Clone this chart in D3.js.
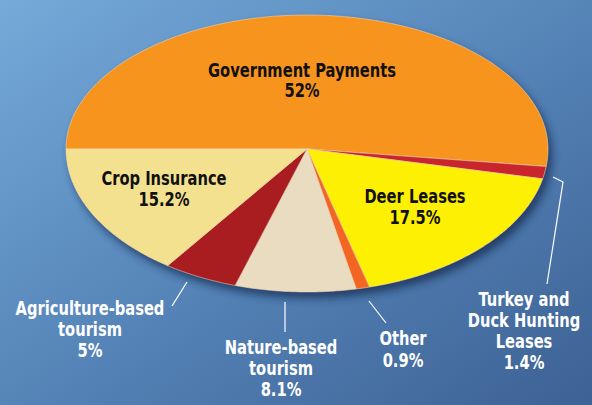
<!DOCTYPE html>
<html>
<head>
<meta charset="utf-8">
<script src="https://cdn.jsdelivr.net/npm/d3@7/dist/d3.min.js"></script>
<style>
  html, body { margin: 0; padding: 0; background: #5a88b8; }
  svg { display: block; }
  text { font-family: "DejaVu Sans Condensed", "DejaVu Sans", "Liberation Sans", sans-serif; font-weight: bold; }
</style>
</head>
<body>
<div id="chart"></div>
<script>
// ---- Data ----
const categories = ["Government Payments", "Turkey and Duck Hunting Leases", "Deer Leases", "Other", "Nature-based tourism", "Agriculture-based tourism", "Crop Insurance"];
const values = [52, 1.4, 17.5, 0.9, 8.1, 5, 15.2];
const nameLines = [
  ["Government Payments"],
  ["Turkey and", "Duck Hunting", "Leases"],
  ["Deer Leases"],
  ["Other"],
  ["Nature-based", "tourism"],
  ["Agriculture-based", "tourism"],
  ["Crop Insurance"]
];
const colors = ["#f7941e", "#c9252c", "#fdf002", "#f26522", "#e9dcc0", "#a91d21", "#f4e18f"];

// ---- Layout (not data) ----
const W = 592, H = 405;
const cx = 307, cy = 149, rx = 241, ryTop = 134, ryBot = 143;
const labelLayout = [
  { x: 302, y: 76.5, lh: 20.5, fill: "#111" },
  { x: 524, y: 306,  lh: 21,   fill: "#fff" },
  { x: 415, y: 203,  lh: 20.5, fill: "#111" },
  { x: 403, y: 345,  lh: 22,   fill: "#fff" },
  { x: 281, y: 354,  lh: 21,   fill: "#fff" },
  { x: 90,  y: 315,  lh: 21,   fill: "#fff" },
  { x: 164, y: 185,  lh: 20.5, fill: "#111" }
];
const leaders = [
  null,
  [[553, 177], [563, 182], [547, 284]],
  null,
  [[369, 301], [386, 323]],
  [[285, 302], [285, 332]],
  [[187, 282], [172, 306]],
  null
];

const svg = d3.select("#chart").append("svg").attr("width", W).attr("height", H);
const defs = svg.append("defs");

const bg = defs.append("linearGradient").attr("id", "bg")
  .attr("x1", 0).attr("y1", 0).attr("x2", 1).attr("y2", 1);
bg.append("stop").attr("offset", "0%").attr("stop-color", "#75aad9");
bg.append("stop").attr("offset", "55%").attr("stop-color", "#5381b5");
bg.append("stop").attr("offset", "100%").attr("stop-color", "#3d6194");

const blur = defs.append("filter").attr("id", "shadow").attr("x", "-20%").attr("y", "-20%").attr("width", "140%").attr("height", "140%");
blur.append("feGaussianBlur").attr("stdDeviation", 4);

svg.append("rect").attr("width", W).attr("height", H).attr("fill", "url(#bg)");

// perspective ellipse projection of an angle (clockwise from 12 o'clock)
function pt(a, ox = 0, oy = 0) {
  const c = Math.cos(a), s = Math.sin(a);
  const ry = c > 0 ? ryTop : ryBot;
  return [cx + ox + rx * s, cy + oy - ry * c];
}
function slicePath(a0, a1, ox = 0, oy = 0) {
  const p = d3.path();
  p.moveTo(cx + ox, cy + oy);
  const n = Math.max(2, Math.ceil((a1 - a0) / 0.01));
  for (let i = 0; i <= n; i++) {
    const q = pt(a0 + (a1 - a0) * i / n, ox, oy);
    p.lineTo(q[0], q[1]);
  }
  p.closePath();
  return p.toString();
}

const pie = d3.pie().sort(null).value(d => d)
  .startAngle(-Math.PI / 2).endAngle(1.5 * Math.PI);
const arcs = pie(values);

// shadow
svg.append("path")
  .attr("d", slicePath(-Math.PI / 2, 1.5 * Math.PI, 4, 6))
  .attr("fill", "#162a4f").attr("opacity", 0.75)
  .attr("filter", "url(#shadow)");

svg.append("g").selectAll("path").data(arcs).join("path")
  .attr("d", d => slicePath(d.startAngle, d.endAngle))
  .attr("fill", (d, i) => colors[i])
  .attr("stroke", "#f6d7b4").attr("stroke-width", 0.8).attr("stroke-opacity", 0.7)
  .attr("stroke-linejoin", "round");

// leader lines
svg.append("g").selectAll("path").data(leaders.filter(l => l)).join("path")
  .attr("d", d => d3.line()(d))
  .attr("fill", "none").attr("stroke", "#fff").attr("stroke-width", 1.2);

// labels (condensed look via horizontal scaling)
const lg = svg.append("g");
values.forEach((v, i) => {
  const L = labelLayout[i];
  const lines = nameLines[i].concat([v + "%"]);
  lines.forEach((ln, j) => {
    lg.append("text")
      .attr("transform", `translate(${L.x},${L.y + j * L.lh}) scale(0.86,1)`)
      .attr("text-anchor", "middle")
      .attr("font-size", 19)
      .attr("fill", L.fill)
      .text(ln);
  });
});
</script>
</body>
</html>
